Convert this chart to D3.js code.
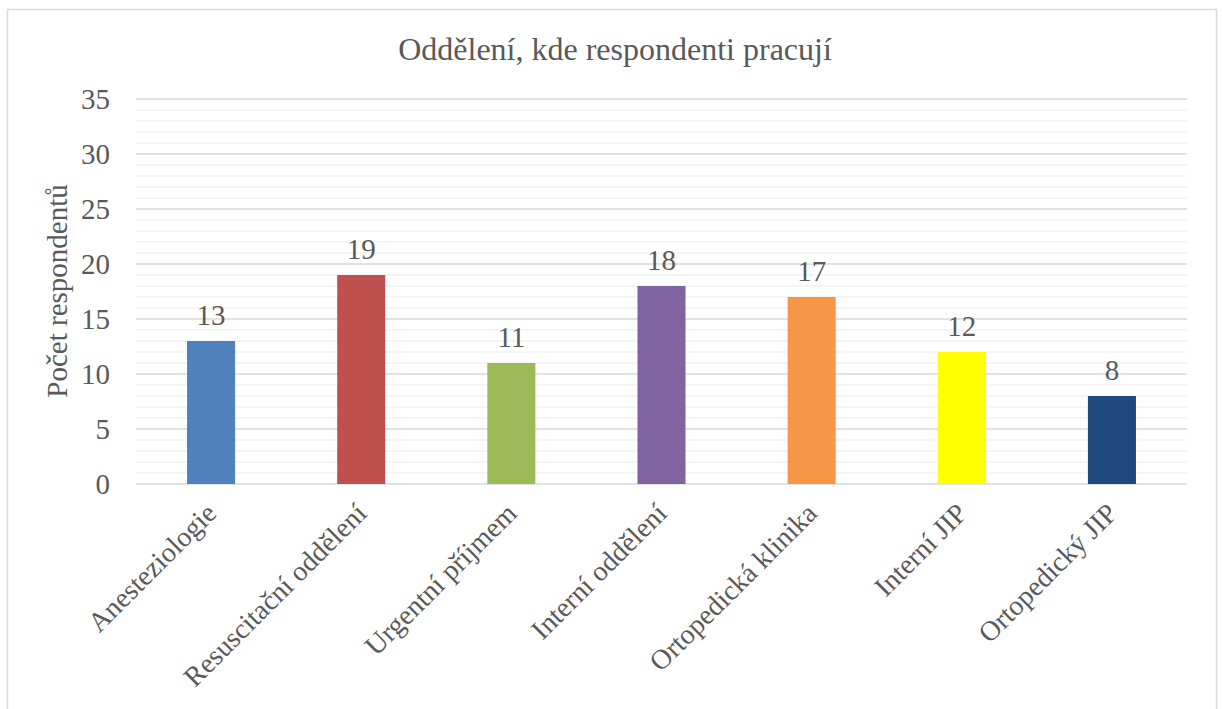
<!DOCTYPE html>
<html>
<head>
<meta charset="utf-8">
<script src="https://cdn.jsdelivr.net/npm/d3@7"></script>
<style>
  body { margin: 0; background: #fff; }
  text { font-family: "Liberation Serif", "Times New Roman", serif; fill: #595959; }
</style>
</head>
<body>
<div id="plot"></div>
<script>
// data
const categories = ["Anesteziologie", "Resuscitační oddělení", "Urgentní příjmem", "Interní oddělení",
  "Ortopedická klinika", "Interní JIP", "Ortopedický JIP"];
const values = [13, 19, 11, 18, 17, 12, 8];
const colors = ["#4F81BD", "#C0504D", "#9BBB59", "#8064A2", "#F79646", "#FFFF00", "#1F497D"];
const yTicks = [0, 5, 10, 15, 20, 25, 30, 35];

const W = 1222, H = 709;
const margin = { top: 99, right: 35, bottom: 225, left: 136 };
const width = W - margin.left - margin.right;
const height = H - margin.top - margin.bottom;
const serif = "'Liberation Serif', 'Times New Roman', serif";

const svg = d3.select("#plot").append("svg")
  .attr("width", W)
  .attr("height", H);

// chart border
svg.append("rect")
  .attr("x", 7.5).attr("y", 9.5)
  .attr("width", 1209).attr("height", 720)
  .attr("fill", "none")
  .attr("stroke", "#d9d9d9")
  .attr("stroke-width", 1.5);

const g = svg.append("g")
  .attr("transform", `translate(${margin.left}, ${margin.top})`);

const x = d3.scaleBand()
  .domain(categories)
  .range([0, width])
  .paddingInner(0.68)
  .paddingOuter(0.34);

const y = d3.scaleLinear()
  .domain([0, 35])
  .range([height, 0]);

// minor gridlines
g.selectAll(".minor")
  .data(d3.range(1, 35).filter(d => d % 5 !== 0))
  .enter().append("line")
  .attr("x1", 0).attr("x2", width)
  .attr("y1", d => y(d)).attr("y2", d => y(d))
  .attr("stroke", "#f2f2f2")
  .attr("stroke-width", 1.5);

// major gridlines
g.selectAll(".major")
  .data(yTicks)
  .enter().append("line")
  .attr("x1", 0).attr("x2", width)
  .attr("y1", d => y(d)).attr("y2", d => y(d))
  .attr("stroke", "#d9d9d9")
  .attr("stroke-width", 1.5);

// y axis
const yAxis = g.append("g")
  .attr("font-family", serif)
  .call(d3.axisLeft(y).tickValues(yTicks).tickSize(0).tickPadding(26));
yAxis.attr("font-family", serif);
yAxis.select(".domain").remove();
yAxis.selectAll("text")
  .style("font-size", "29px")
  .style("font-family", serif)
  .attr("fill", "#595959");

// bars
g.selectAll(".bar")
  .data(values)
  .enter().append("rect")
  .attr("class", "bar")
  .attr("x", (d, i) => x(categories[i]))
  .attr("y", d => y(d))
  .attr("width", x.bandwidth())
  .attr("height", d => height - y(d))
  .attr("fill", (d, i) => colors[i]);

// value labels
g.selectAll(".label")
  .data(values)
  .enter().append("text")
  .attr("x", (d, i) => x(categories[i]) + x.bandwidth() / 2)
  .attr("y", d => y(d) - 16)
  .attr("text-anchor", "middle")
  .style("font-size", "29px")
  .style("font-family", serif)
  .text(d => d);

// x labels
g.selectAll(".xlabel")
  .data(categories)
  .enter().append("text")
  .attr("text-anchor", "end")
  .attr("transform", d => `translate(${x(d) + x.bandwidth() / 2 + 7}, ${height + 31}) rotate(-45)`)
  .style("font-size", "28px")
  .style("font-family", serif)
  .text(d => d);

// y title
svg.append("text")
  .attr("transform", "translate(67, 291) rotate(-90)")
  .attr("text-anchor", "middle")
  .style("font-size", "29px")
  .style("font-family", serif)
  .text("Počet respondentů");

// title
svg.append("text")
  .attr("x", 615)
  .attr("y", 60)
  .attr("text-anchor", "middle")
  .style("font-size", "32px")
  .style("font-family", serif)
  .text("Oddělení, kde respondenti pracují");
</script>
</body>
</html>
